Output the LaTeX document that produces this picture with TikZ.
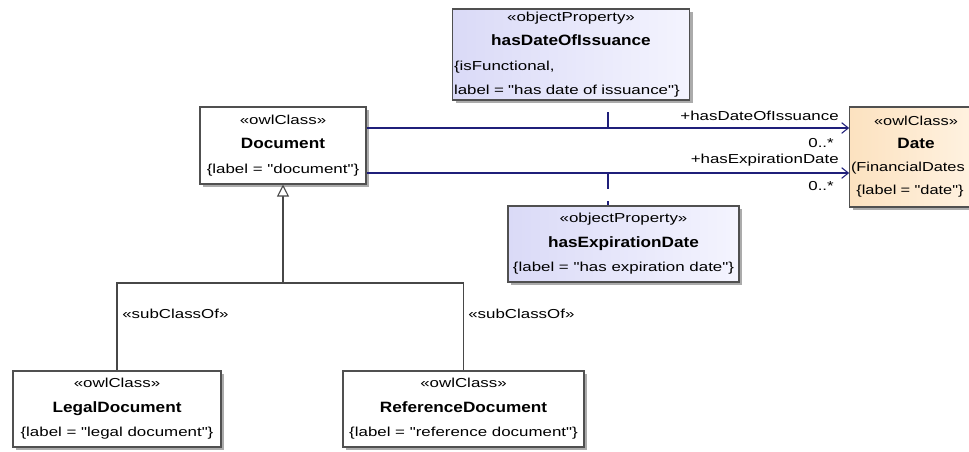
\documentclass[tikz,border=0pt]{standalone}
\usepackage{fontspec}
\setmainfont{Liberation Sans}
\newfontfamily\rgf{Liberation Sans}[FakeStretch=1.3]
\newfontfamily\rgn{Liberation Sans}[FakeStretch=1.26]
\newfontfamily\bdf{Liberation Sans}[FakeStretch=1.15,Scale=1.15]
\usetikzlibrary{arrows.meta,shadows}
\definecolor{navy}{HTML}{1F1F7A}
\definecolor{bord}{HTML}{505050}
\definecolor{lavA}{HTML}{DADAF7}
\definecolor{lavB}{HTML}{F4F4FE}
\definecolor{peachA}{HTML}{FCE2C0}
\definecolor{peachB}{HTML}{FFF3E3}
\newcommand\nmb[1]{{\bdf\bfseries #1}}
\tikzset{
  umlbox/.style={draw=bord, line width=0.8pt, fill=white, inner xsep=1pt, inner ysep=2pt,
    align=center, font=\rgf\fontsize{9.75pt}{18.4pt}\selectfont,
    drop shadow={shadow xshift=2.5pt, shadow yshift=-2.5pt, fill=black!60, opacity=0.55}},
  clsbox/.style={umlbox},
  propbox/.style={umlbox, left color=lavA, right color=lavB},
  datebox/.style={umlbox, left color=peachA, right color=peachB},
  assoc/.style={draw=navy, line width=0.8pt, -{Straight Barb[length=5pt,width=8pt]}},
  plink/.style={draw=navy, line width=0.8pt, dash pattern=on 12pt off 9pt},
  genline/.style={draw=black!72, line width=0.8pt},
  lbl/.style={inner sep=0pt, font=\rgf\fontsize{9.75pt}{18pt}\selectfont},
}
\begin{document}
\begin{tikzpicture}[x=0.75pt,y=-0.75pt]
\useasboundingbox (0,0) rectangle (969,451);
\fill[white] (0,0) rectangle (969,451);
\clip (0,0) rectangle (969,451);

% classes
\node[clsbox, minimum width=166*0.75pt, minimum height=77*0.75pt] (doc) at (283,145.5)
  {«owlClass»\\\nmb{Document}\\\{label = "document"\}};
\node[clsbox, minimum width=208*0.75pt, minimum height=76*0.75pt] (legal) at (117,409)
  {«owlClass»\\\nmb{LegalDocument}\\\{label = "legal document"\}};
\node[clsbox, minimum width=241*0.75pt, minimum height=76*0.75pt] (ref) at (463.5,409)
  {«owlClass»\\\nmb{ReferenceDocument}\\\{label = "reference document"\}};
\node[datebox, text width=130*0.75pt, minimum height=100*0.75pt,
  font=\rgn\fontsize{9.75pt}{17.2pt}\selectfont] (date) at (916,157)
  {«owlClass»\\\nmb{Date}\\\makebox[\linewidth][l]{(FinancialDates}\\\makebox[\linewidth][l]{\hspace{4pt}\{label = "date"\}}};

% properties
\node[propbox, text width=234*0.75pt, minimum height=91*0.75pt, align=left] (p1) at (571,54.5)
  {\makebox[\linewidth]{«objectProperty»}\\\makebox[\linewidth]{\nmb{hasDateOfIssuance}}\\\{isFunctional,\\label = "has date of issuance"\}};
\node[propbox, minimum width=231*0.75pt, minimum height=76*0.75pt] (p2) at (623.5,244)
  {«objectProperty»\\\nmb{hasExpirationDate}\\\{label = "has expiration date"\}};

% associations
\coordinate (ya) at (0,128);
\coordinate (yb) at (0,173);
\draw[assoc] (doc.east |- ya) -- (date.west |- ya);
\draw[assoc] (doc.east |- yb) -- (date.west |- yb);
\node[lbl, anchor=base east] (r1) at (839,120) {+hasDateOfIssuance};
\node[lbl, anchor=base east] (m1l) at (834,147) {0..*};
\node[lbl, anchor=base east] (r2) at (839,163) {+hasExpirationDate};
\node[lbl, anchor=base east] (m2l) at (834,190) {0..*};

% property links
\coordinate (ma) at (608,128);
\coordinate (mb) at (608,173);
\draw[plink] (ma) -- (ma |- p1.south);
\draw[plink] (mb) -- (mb |- p2.north);

% generalization
\coordinate (j) at (doc.south |- 0,283);
\draw[genline] (legal.north) |- (j);
\draw[genline] (ref.north) |- (j);
\draw[genline, -{Triangle[open, fill=white, length=9pt, width=9pt]}] (j) -- (doc.south);
\node[lbl, anchor=west] (s1) at (122,314) {«subClassOf»};
\node[lbl, anchor=west] (s2) at (468,314) {«subClassOf»};
\end{tikzpicture}
\end{document}
